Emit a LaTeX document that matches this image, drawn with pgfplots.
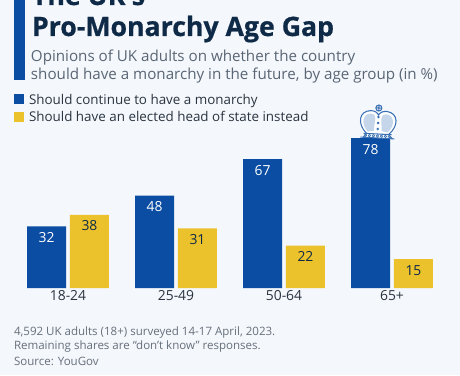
\documentclass[border=0pt]{standalone}
\usepackage{pgfplots}
\pgfplotsset{compat=1.18}
\usepackage{fontspec}
\setmainfont{Open Sans}
\newfontfamily\titlefont[FakeBold=0.7]{Open Sans Bold}
\definecolor{bg}{HTML}{F4F7FB}
\definecolor{sblue}{HTML}{0A4DA2}
\definecolor{syellow}{HTML}{EBC22C}
\definecolor{stitle}{HTML}{0F2A47}
\definecolor{ssub}{HTML}{5A6675}
\definecolor{sleg}{HTML}{2A3440}
\definecolor{sfoot}{HTML}{66707C}
\definecolor{crownl}{HTML}{C5D6EA}
\begin{document}
\begin{tikzpicture}[x=0.75pt,y=0.75pt,every node/.style={inner sep=0pt,outer sep=0pt}]
\clip (0,0) rectangle (460,375);
\fill[bg] (0,0) rectangle (460,375);
% accent bar
\fill[sblue] (14,295) rectangle (25,375);
% title
\node[anchor=base west,font=\titlefont\fontsize{20pt}{22pt}\selectfont,text=stitle] at (32,370) {The UK's};
\node[anchor=base west,font=\titlefont\fontsize{20pt}{22pt}\selectfont,text=stitle] at (32,339) {Pro-Monarchy Age Gap};
% subtitle
\node[anchor=base west,font=\fontsize{11.37pt}{14pt}\selectfont,text=ssub] at (31,313) {Opinions of UK adults on whether the country};
\node[anchor=base west,font=\fontsize{11.37pt}{14pt}\selectfont,text=ssub] at (31,295) {should have a monarchy in the future, by age group (in \%)};
% legend
\fill[sblue] (14,271) rectangle (24,280.5);
\fill[syellow] (14,253) rectangle (24,263);
\node[anchor=base west,font=\fontsize{10.05pt}{12pt}\selectfont,text=sleg] at (29,270) {Should continue to have a monarchy};
\node[anchor=base west,font=\fontsize{10.05pt}{12pt}\selectfont,text=sleg] at (29,253) {Should have an elected head of state instead};
% chart
\begin{axis}[
  at={(0pt,65.25pt)},anchor=south west,
  scale only axis,width=345pt,height=216pt,
  xmin=-0.62963,xmax=3.62963,ymin=0,ymax=149.8,
  axis line style={draw=none},
  ytick=\empty,xtick={0,1,2,3},xticklabels={18-24,25-49,50-64,65+},
  major tick length=0pt,
  xticklabel style={font=\fontsize{10.4pt}{12pt}\selectfont,text=sleg,yshift=-1.5pt},
  ybar,bar width=29.25pt,
  clip=false,
  nodes near coords,
  nodes near coords align={anchor=north},
  /pgf/number format/assume math mode=true,
  every node near coord/.append style={font=\fontsize{10.4pt}{12pt}\selectfont,yshift=-4.5pt},
]
\addplot[fill=sblue,draw=none,bar shift=-16.1pt,every node near coord/.append style={text=white}] coordinates {(0,32) (1,48) (2,67) (3,78)};
\addplot[fill=syellow,draw=none,bar shift=16.1pt,every node near coord/.append style={text=stitle}] coordinates {(0,38) (1,31) (2,22) (3,15)};
\end{axis}
% crown (decoration)
\begin{scope}[shift={(378,0)},rotate around={-3:(0,250)},line width=0.8pt,draw=sblue!80]
\fill[white] (-17,237) -- (-13,240) .. controls (-22,250) and (-20,262) .. (-8,263) .. controls (-4,263) and (-2,262) .. (0,260) .. controls (2,262) and (4,263) .. (8,263) .. controls (20,262) and (22,250) .. (13,240) -- (17,237) -- cycle;
\draw (-14,237) -- (-11,241) .. controls (-21,250) and (-20,263) .. (-8,264) .. controls (-4,264) and (-2,263) .. (0,260) .. controls (2,263) and (4,264) .. (8,264) .. controls (20,263) and (21,250) .. (11,241) -- (15,237);
\fill[crownl] (-10,243) .. controls (-18,251) and (-15,261) .. (-8,261) .. controls (-4,261) and (-3,259) .. (-3,256) -- (-4,244) -- cycle;
\fill[crownl] (10,243) .. controls (18,251) and (15,261) .. (8,261) .. controls (4,261) and (3,259) .. (3,256) -- (4,244) -- cycle;
\draw (-17,237) -- (17,237);
\draw (-14,241) -- (14,241);
\foreach \xx in {-12,-8,-4,0,4,8,12} \draw[line width=0.5pt] (\xx,239) circle (1.2);
\foreach \yy in {246,252,258} \fill[sblue!80] (0,\yy) circle (1.4);
\draw (0,267) circle (3);
\draw (0,264) -- (0,270) (-3,267) -- (3,267);
\end{scope}
% footer
\node[anchor=base west,font=\fontsize{8.65pt}{11pt}\selectfont,text=sfoot] at (14,40) {4,592 UK adults (18+) surveyed 14-17 April, 2023.};
\node[anchor=base west,font=\fontsize{8.65pt}{11pt}\selectfont,text=sfoot] at (14,26) {Remaining shares are “don’t know” responses.};
\node[anchor=base west,font=\fontsize{8.65pt}{11pt}\selectfont,text=sfoot] at (14,10) {Source: YouGov};
\end{tikzpicture}
\end{document}
